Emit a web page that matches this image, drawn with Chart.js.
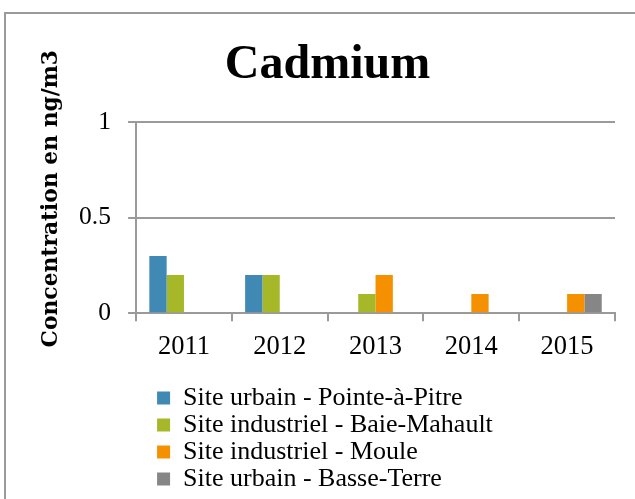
<!DOCTYPE html>
<html>
<head>
<meta charset="utf-8">
<script src="https://cdn.jsdelivr.net/npm/chart.js@4/dist/chart.umd.min.js"></script>
<style>
  html, body { margin: 0; padding: 0; background: #fff; overflow: hidden; width: 635px; height: 499px; }
  #frame { position: absolute; left: 4px; top: 12px; width: 700px; height: 600px; border: 2px solid #9a9a9a; background: #fff; }
  #c { position: absolute; left: 0; top: 0; }
</style>
</head>
<body>
<div id="frame"><canvas id="c" width="643" height="500"></canvas></div>
<script>
// ---- data ----
const categories = ['2011', '2012', '2013', '2014', '2015'];
const seriesNames = [
  'Site urbain - Pointe-à-Pitre',
  'Site industriel - Baie-Mahault',
  'Site industriel - Moule',
  'Site urbain - Basse-Terre'
];
const pointeAPitre = [0.3, 0.2, null, null, null];
const baieMahault  = [0.2, 0.2, 0.1, null, null];
const moule        = [null, null, 0.2, 0.1, 0.1];
const basseTerre   = [null, null, null, null, 0.1];
const yTickValues = [0, 0.5, 1];
const yTickLabels = ['0', '0.5', '1'];
const chartTitle = 'Cadmium';
const yTitle = 'Concentration en ng/m3';

// ---- styles ----
const colors = ['#4189b5', '#a6b827', '#f59100', '#868686'];
const gridColor = '#9a9a9a';

const legendShift = {
  id: 'legendShift',
  afterLayout(chart) {
    const lg = chart.legend;
    if (lg) { lg.left += 20; lg.right += 20; }
  }
};

const values = [pointeAPitre, baieMahault, moule, basseTerre];

new Chart(document.getElementById('c'), {
  type: 'bar',
  data: {
    labels: categories,
    datasets: seriesNames.map((name, i) => ({
      label: name,
      data: values[i],
      backgroundColor: colors[i],
      borderWidth: 0,
      categoryPercentage: 0.723,
      barPercentage: 1.0
    }))
  },
  options: {
    responsive: false,
    animation: false,
    devicePixelRatio: 1,
    layout: { padding: { left: 34, right: 34, top: 0, bottom: 12 } },
    plugins: {
      title: {
        display: true,
        text: chartTitle,
        color: '#000',
        font: { family: "'Liberation Serif', serif", size: 48, weight: 'bold', lineHeight: 1.2 },
        padding: { top: 23, bottom: 27.6 }
      },
      legend: {
        display: true,
        position: 'bottom',
        align: 'start',
        fullSize: false,
        labels: {
          color: '#000',
          font: { family: "'Liberation Serif', serif", size: 26 },
          boxWidth: 13,
          boxHeight: 13,
          padding: 1
        }
      },
      tooltip: { enabled: false }
    },
    scales: {
      x: {
        grid: { display: true, drawOnChartArea: false, drawTicks: true, tickLength: 8, color: gridColor, lineWidth: 2, offset: true },
        border: { display: true, color: gridColor, width: 2 },
        ticks: { color: '#000', font: { family: "'Liberation Serif', serif", size: 26.5 }, padding: 10, maxRotation: 0 },
        afterFit(scale) { scale.height += 11; }
      },
      y: {
        min: 0,
        max: 1,
        afterBuildTicks(scale) { scale.ticks = yTickValues.map(v => ({ value: v })); },
        grid: { color: gridColor, lineWidth: 2, drawTicks: true, tickLength: 8 },
        border: { display: true, color: gridColor, width: 2 },
        ticks: {
          color: '#000',
          font: { family: "'Liberation Serif', serif", size: 25.5 },
          padding: 17.2,
          callback: (v) => yTickLabels[yTickValues.indexOf(v)]
        },
        title: {
          display: true,
          text: '     ' + yTitle,
          color: '#000',
          font: { family: "'DejaVu Serif', serif", size: 21.8, weight: 'bold', lineHeight: 1 },
          padding: { top: 0, bottom: 0 }
        }
      }
    }
  },
  plugins: [legendShift]
});
</script>
</body>
</html>
